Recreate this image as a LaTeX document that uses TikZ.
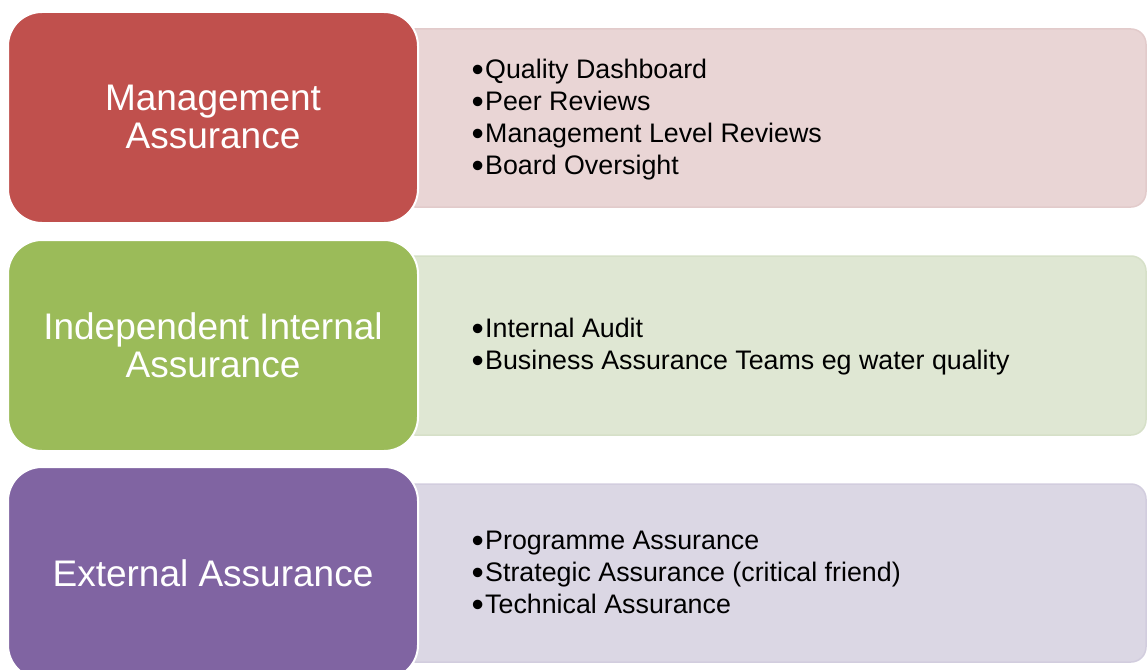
\documentclass[tikz,border=0pt]{standalone}
\usepackage{fontspec}
\setmainfont{Liberation Sans}
\definecolor{redA}{RGB}{192,80,77}
\definecolor{greenA}{RGB}{155,187,89}
\definecolor{purpleA}{RGB}{128,100,162}
\definecolor{redL}{RGB}{233,213,213}
\definecolor{greenL}{RGB}{223,231,211}
\definecolor{purpleL}{RGB}{219,215,228}
\definecolor{redLb}{RGB}{226,203,203}
\definecolor{greenLb}{RGB}{214,224,200}
\definecolor{purpleLb}{RGB}{210,205,222}
\newcommand{\bul}{\makebox[14pt][l]{\kern0.5pt\raisebox{-3pt}{\scalebox{1.3}{\textbullet}}}}
\tikzset{
  headbox/.style={rounded corners=34pt, draw=white, line width=2pt},
  listbox/.style={rounded corners=15pt, line width=1.5pt},
  headtext/.style={text=white, align=center, inner sep=0pt, font=\fontsize{37}{38}\selectfont},
  listtext/.style={text=black, align=left, anchor=west, inner sep=0pt, font=\fontsize{26.8}{32}\selectfont}
}
\begin{document}
\begin{tikzpicture}[x=1pt,y=-1pt]
\useasboundingbox (0,0) rectangle (1147,669);
\clip (0,0) rectangle (1147,669);
% light list boxes
\draw[listbox, fill=redL, draw=redLb] (400,29) rectangle (1146,207);
\draw[listbox, fill=greenL, draw=greenLb] (400,256) rectangle (1146,435);
\draw[listbox, fill=purpleL, draw=purpleLb] (400,484) rectangle (1146,662);
% heading boxes
\draw[headbox, fill=redA] (8,12) rectangle (418,223);
\draw[headbox, fill=greenA] (8,240) rectangle (418,451);
\draw[headbox, fill=purpleA] (8,467) rectangle (418,679);
% heading texts
\node[headtext] (h1) at (213,117) {Management\\Assurance};
\node[headtext] (h2) at (213,345) {Independent Internal\\Assurance};
\node[headtext] (h3) at (213,573) {External Assurance};
% list texts
\node[listtext] (l1) at (471,120) {\bul Quality Dashboard\\\bul Peer Reviews\\\bul Management Level Reviews\\\bul Board Oversight};
\node[listtext] (l2) at (471,347) {\bul Internal Audit\\\bul Business Assurance Teams eg water quality};
\node[listtext] (l3) at (471,574) {\bul Programme Assurance\\\bul Strategic Assurance (critical friend)\\\bul Technical Assurance};
\end{tikzpicture}
\end{document}
